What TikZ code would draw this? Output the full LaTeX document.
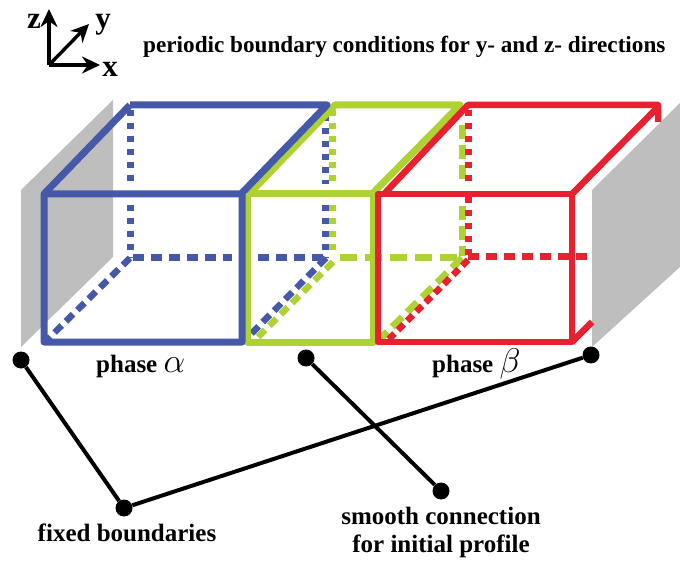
\documentclass[tikz,border=0pt]{standalone}
\usepackage{fontspec}
\setmainfont{Liberation Serif}
\usetikzlibrary{arrows.meta}
\definecolor{cblue}{RGB}{70,88,168}
\definecolor{cgreen}{RGB}{174,210,52}
\definecolor{cred}{RGB}{233,32,48}
\definecolor{cgray}{RGB}{190,190,190}
\tikzset{
 wall/.style={fill=cgray,draw=none},
 solidb/.style={draw=cblue,line width=7pt,line join=round},
 solidg/.style={draw=cgreen,line width=7pt,line join=round},
 solidr/.style={draw=cred,line width=6.5pt,line join=round},
 dotv/.style={line width=7pt,dash pattern=on 6pt off 7pt},
 dashh/.style={line width=7pt,dash pattern=on 11pt off 7pt},
 dashg/.style={line width=7pt,dash pattern=on 17pt off 8pt},
 dashd/.style={line width=6.5pt,dash pattern=on 10pt off 6pt},
 dot/.style={circle,fill=black,inner sep=0pt,minimum size=17pt},
 leader/.style={draw=black,line width=4pt},
 axis/.style={draw=black,line width=3.4pt,-{Stealth[length=18pt,width=17pt]}},
 lab/.style={font=\fontsize{25}{28}\selectfont\bfseries,inner sep=0pt,align=center},
 ttl/.style={font=\fontsize{23.2}{28}\selectfont\bfseries,inner sep=0pt},
 axl/.style={font=\fontsize{31}{34}\selectfont\bfseries,inner sep=0pt},
}
\newcommand{\biggreek}[1]{\scalebox{1.38}{\(#1\)}}
\begin{document}
\begin{tikzpicture}[x=1pt,y=-1pt]
\useasboundingbox (0,0) rectangle (680,561);
% walls
\fill[wall] (21,190) -- (113,100) -- (113,257) -- (21,347) -- cycle;
% green dashed
\draw[cgreen,dotv] (332,110) -- (332,184);
\draw[cgreen,dotv] (332,205) -- (332,256);
\draw[cgreen,dashg] (340,258) -- (464,258);
\draw[cgreen,dashd] (333,262) -- (254,341);
\draw[cgreen,dashg,dash pattern=on 14pt off 6pt] (462,125) -- (462,184);
\draw[cgreen,dashg,dash pattern=on 14pt off 6pt] (462,206) -- (462,256);
\draw[cgreen,dashg,dash pattern=on 14pt off 7pt] (462,258) -- (379,340);
% blue dashed
\draw[cblue,dotv] (130,110) -- (130,184);
\draw[cblue,dotv] (130,205) -- (130,258);
\draw[cblue,dashh] (133,258) -- (232,258);
\draw[cblue,dashh] (258,258) -- (330,258);
\draw[cblue,dashd] (130,258) -- (47,340);
\draw[cblue,dotv] (325,115) -- (325,184);
\draw[cblue,dotv] (325,205) -- (325,258);
\draw[cblue,dashd] (326,258) -- (250,335);
% red dashed
\draw[cred,dotv] (468,110) -- (468,184);
\draw[cred,dotv] (468,197) -- (468,258);
\draw[cred,dashh] (468,257) -- (592,257);
\draw[cred,dashd,dash pattern=on 8pt off 5pt] (468,260) -- (388,340);
% wall on the right covers the dashes
\fill[wall] (592,190) -- (680,103) -- (680,267) -- (592,347) -- cycle;
% green solid
\draw[solidg] (247,194) -- (247,342) -- (373,342) -- (373,194) -- (247,194);
\draw[solidg] (249,194) -- (335,105) -- (460,105) -- (372,194);
% blue solid
\draw[solidb] (130,105) -- (44,194) -- (44,342) -- (242,342) -- (242,194) -- (44,194);
\draw[solidb] (130,105) -- (327,105) -- (241,194);
% red solid
\draw[solidr] (378,194) -- (378,342) -- (572,342) -- (572,194) -- cycle;
\draw[solidr] (384,194) -- (468,105) -- (658,105) -- (658,122);
\draw[solidr] (572,194) -- (657,108);
\draw[solidr] (572,342) -- (592,322);
% axes
\coordinate (o) at (49,65);
\coordinate (ze) at (49,9);
\coordinate (ye) at (89,24);
\coordinate (xe) at (100,65);
\draw[axis] (o) -- (ze);
\draw[axis] (o) -- (ye);
\draw[axis] (o) -- (xe);
\node[axl] (zl) at (34,21) {z};
\node[axl] (yl) at (103,25) {y};
\node[axl] (xl) at (110,69) {x};
% labels
\node[ttl,anchor=west] (title) at (143,47) {periodic boundary conditions for y- and z- directions};
\node[lab,anchor=base west] (pa) at (96,372) {phase \biggreek{\alpha}};
\node[lab,anchor=base west] (pb) at (432,372) {phase \biggreek{\beta}};
\node[lab] (fb) at (127,533) {fixed boundaries};
\node[lab] (sc) at (441,532) {smooth connection\\for initial profile};
% leaders
\node[dot] (d1) at (21,360) {};
\node[dot] (d2) at (306,358) {};
\node[dot] (d3) at (591,355) {};
\node[dot] (d4) at (124,508) {};
\node[dot] (d5) at (441,491) {};
\draw[leader] (d1) -- (d4);
\draw[leader] (d4) -- (d3);
\draw[leader] (d2) -- (d5);
\end{tikzpicture}
\end{document}
